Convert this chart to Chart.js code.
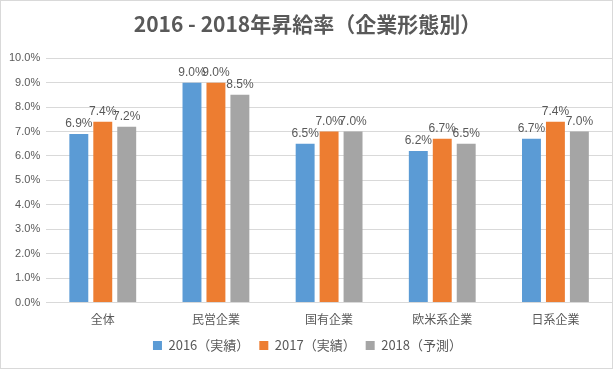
<!DOCTYPE html>
<html>
<head>
<meta charset="utf-8">
<script src="https://cdn.jsdelivr.net/npm/chart.js@4"></script>
<style>
  html, body { margin: 0; padding: 0; background: #fff; }
  #wrap { width: 611px; height: 367px; border: 1px solid #d9d9d9; }
</style>
</head>
<body>
<div id="wrap"><canvas id="chart" width="611" height="367"></canvas></div>
<script>
const categories = ['全体', '民営企業', '国有企業', '欧米系企業', '日系企業'];
const seriesNames = ['2016（実績）', '2017（実績）', '2018（予測）'];
const values2016 = [6.9, 9.0, 6.5, 6.2, 6.7];
const values2017 = [7.4, 9.0, 7.0, 6.7, 7.4];
const values2018 = [7.2, 8.5, 7.0, 6.5, 7.0];
const colors = ['#5b9bd5', '#ed7d31', '#a5a5a5'];

// 値ラベルを棒の上に描く
const valueLabels = {
    id: 'valueLabels',
    afterDatasetsDraw(chart) {
        const ctx = chart.ctx;
        ctx.save();
        ctx.font = '12px "Liberation Sans", Arial, sans-serif';
        ctx.fillStyle = '#595959';
        ctx.textAlign = 'center';
        ctx.textBaseline = 'bottom';
        chart.data.datasets.forEach((ds, i) => {
            chart.getDatasetMeta(i).data.forEach((bar, j) => {
                ctx.fillText(ds.data[j].toFixed(1) + '%', bar.x, bar.y - 4);
            });
        });
        ctx.restore();
    }
};

const ctx = document.getElementById('chart').getContext('2d');
new Chart(ctx, {
    type: 'bar',
    data: {
        labels: categories,
        datasets: [values2016, values2017, values2018].map((vals, i) => ({
            label: seriesNames[i],
            data: vals,
            backgroundColor: colors[i],
            barPercentage: 0.79,
            categoryPercentage: 0.635
        }))
    },
    options: {
        responsive: false,
        animation: false,
        layout: { padding: { left: 2, right: 0, top: 10, bottom: 6 } },
        plugins: {
            title: {
                display: true,
                text: '2016 - 2018年昇給率（企業形態別）',
                color: '#595959',
                font: { size: 21, weight: 'bold', family: '"Noto Sans CJK JP", sans-serif' },
                padding: { top: 0, bottom: 22 }
            },
            legend: {
                position: 'bottom',
                labels: {
                    color: '#595959',
                    font: { size: 13, family: '"Noto Sans CJK JP", sans-serif' },
                    boxWidth: 9,
                    boxHeight: 9,
                    padding: 10
                }
            },
            tooltip: { enabled: false }
        },
        scales: {
            x: {
                grid: { display: false },
                border: { color: '#d9d9d9' },
                ticks: { color: '#595959', padding: 2, font: { size: 12, family: '"Noto Sans CJK JP", sans-serif' } }
            },
            y: {
                min: 0,
                max: 10,
                ticks: {
                    stepSize: 1,
                    color: '#595959',
                    padding: 6,
                    font: { size: 11, family: '"Liberation Sans", Arial, sans-serif' },
                    callback: v => v.toFixed(1) + '%'
                },
                grid: { color: '#d9d9d9', drawTicks: false },
                border: { display: false }
            }
        }
    },
    plugins: [valueLabels]
});
</script>
</body>
</html>
